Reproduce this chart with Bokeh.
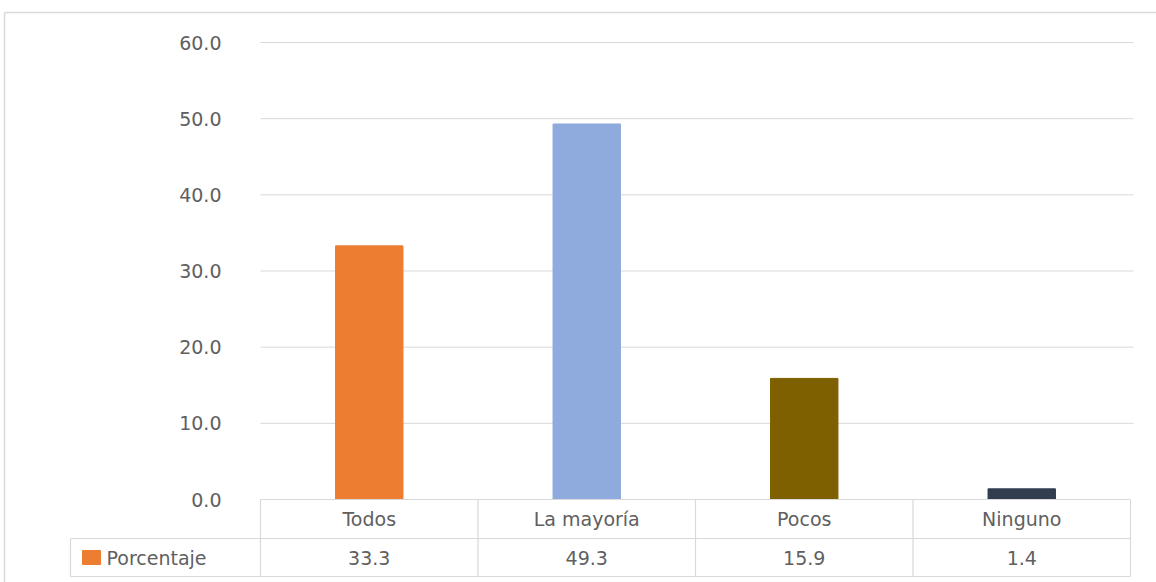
from bokeh.plotting import figure
from bokeh.models import Range1d, ColumnDataSource
from bokeh.core.properties import value
from bokeh.embed import file_html
from bokeh.resources import INLINE

# ---- data ----
categories = ["Todos", "La mayoría", "Pocos", "Ninguno"]
porcentaje = [33.3, 49.3, 15.9, 1.4]
bar_colors = ["#ED7D31", "#8FAADC", "#7F6000", "#323E4F"]
tick_values = [0, 10, 20, 30, 40, 50, 60]
tick_labels = ["0.0", "10.0", "20.0", "30.0", "40.0", "50.0", "60.0"]
series_name = "Porcentaje"
value_labels = ["33.3", "49.3", "15.9", "1.4"]

# ---- layout helpers (picture pixels -> data coords) ----
W, H = 1156, 582
OX, OY = 0, 0
X0_PX, CAT_PX = 260.0, 217.5          # x=0 at px 260, one category = 217.5 px
Y0_PX, UNIT_PX = 499.0, 457.0 / 60.0  # y=0 at px 499

def wx(px):
    return (px - X0_PX) / CAT_PX

def wy(py):
    return (Y0_PX - py) / UNIT_PX

FONT = value("DejaVu Sans")
TXT = "#606060"
LINE = "#D9D9D9"
FS = "19px"

p = figure(width=W, height=H, output_backend="svg", toolbar_location=None,
           x_range=Range1d(wx(OX), wx(OX + W)), y_range=Range1d(wy(OY + H), wy(OY)),
           x_axis_location=None, y_axis_location=None, min_border=0,
           tools="")
p.outline_line_color = None
p.grid.visible = False
p.background_fill_color = "white"
p.border_fill_color = "white"

n = len(categories)
xc = [i + 0.5 for i in range(n)]

# outer chart border (top and left)
p.segment(x0=[wx(4)], y0=[wy(12)], x1=[wx(OX + W)], y1=[wy(12)], line_color=LINE, line_width=1.5)
p.segment(x0=[wx(4)], y0=[wy(12)], x1=[wx(4)], y1=[wy(OY + H)], line_color=LINE, line_width=1.5)

# gridlines
gl = [t for t in tick_values if t > 0]
p.segment(x0=[0] * len(gl), y0=gl, x1=[wx(1133)] * len(gl), y1=gl, line_color=LINE, line_width=1)

# bars
src = ColumnDataSource(dict(x=xc, top=porcentaje, color=bar_colors))
p.vbar(x="x", top="top", bottom=0, width=0.31, color="color", source=src)

# y tick labels
p.text(x=[wx(221)] * len(tick_values), y=tick_values, text=tick_labels,
       text_align="right", text_baseline="middle", text_font=FONT,
       text_font_size=FS, text_color=TXT)

# data table lines
r1 = wy(538)
r2 = wy(576)
p.segment(x0=[0], y0=[0], x1=[n], y1=[0], line_color=LINE, line_width=1.2)
p.segment(x0=[wx(70), wx(70)], y0=[r1, r2], x1=[n, n], y1=[r1, r2], line_color=LINE, line_width=1.2)
vx = list(range(n + 1))
p.segment(x0=vx, y0=[0] * len(vx), x1=vx, y1=[r2] * len(vx), line_color=LINE, line_width=1.2)
p.segment(x0=[wx(70)], y0=[r1], x1=[wx(70)], y1=[r2], line_color=LINE, line_width=1.2)

# category labels
p.text(x=xc, y=[(0 + r1) / 2] * n, text=categories, text_align="center",
       text_baseline="middle", text_font=FONT, text_font_size=FS, text_color=TXT)
# value labels
p.text(x=xc, y=[(r1 + r2) / 2] * n, text=value_labels, text_align="center",
       text_baseline="middle", text_font=FONT, text_font_size=FS, text_color=TXT)
# legend key and name
p.rect(x=[wx(91)], y=[(r1 + r2) / 2], width=18, height=14, width_units="screen",
       height_units="screen", color=bar_colors[0])
p.text(x=[wx(106)], y=[(r1 + r2) / 2], text=[series_name], text_align="left",
       text_baseline="middle", text_font=FONT, text_font_size=FS, text_color=TXT)

open("out.html", "w").write(file_html(p, INLINE))
